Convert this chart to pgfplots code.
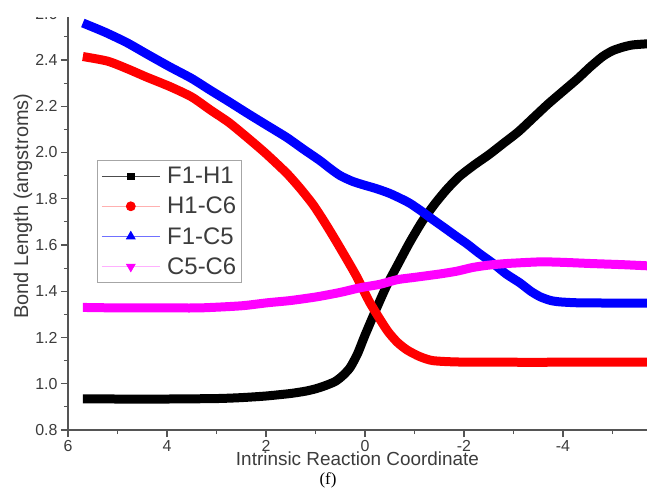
\documentclass[border=0pt]{standalone}
\usepackage{pgfplots}
\pgfplotsset{compat=1.18}
\usepackage{fontspec}
\setmainfont{Liberation Sans}
\newfontfamily\capfont{Liberation Serif}
\definecolor{txt}{HTML}{3C3C3C}
\definecolor{axc}{HTML}{555555}
\definecolor{cred}{HTML}{FF0000}
\definecolor{cblue}{HTML}{0000FF}
\definecolor{cmag}{HTML}{FF00FF}
\definecolor{lpink}{HTML}{FFB0B0}
\definecolor{lmag}{HTML}{FFB0FF}
\definecolor{lblue}{HTML}{7070FF}

\pgfplotstableread{
x y
5.7 0.935
5.0 0.934
4.0 0.934
3.0 0.936
2.5 0.940
2.0 0.947
1.5 0.958
1.2 0.968
1.0 0.978
0.8 0.992
0.6 1.010
0.45 1.035
0.3 1.07
0.15 1.13
0.0 1.21
-0.2 1.31
-0.44 1.425
-0.65 1.51
-0.9 1.61
-1.15 1.70
-1.4 1.775
-1.65 1.84
-1.9 1.895
-2.2 1.945
-2.5 1.99
-2.8 2.04
-3.1 2.09
-3.4 2.15
-3.7 2.21
-4.0 2.265
-4.3 2.32
-4.55 2.37
-4.8 2.415
-5.0 2.44
-5.2 2.455
-5.4 2.465
-5.7 2.47
}\tFH

\pgfplotstableread{
x y
5.7 2.415
5.2 2.395
4.8 2.362
4.4 2.325
3.94 2.285
3.5 2.24
3.13 2.185
2.75 2.13
2.38 2.065
2.0 1.995
1.58 1.91
1.31 1.845
1.05 1.775
0.85 1.71
0.64 1.637
0.4 1.55
0.17 1.464
-0.1 1.35
-0.44 1.233
-0.65 1.18
-0.85 1.146
-1.1 1.118
-1.37 1.10
-1.9 1.094
-3.0 1.093
-4.0 1.093
-5.0 1.093
-5.7 1.093
}\tHC

\pgfplotstableread{
x y
5.7 2.56
5.25 2.52
4.81 2.475
4.4 2.425
3.94 2.37
3.5 2.32
3.13 2.27
2.75 2.22
2.38 2.17
2.0 2.12
1.58 2.065
1.25 2.015
0.91 1.965
0.7 1.93
0.5 1.9
0.25 1.875
0.0 1.858
-0.24 1.843
-0.5 1.823
-0.75 1.798
-0.91 1.78
-1.15 1.745
-1.37 1.71
-1.6 1.675
-1.86 1.635
-2.06 1.605
-2.3 1.565
-2.59 1.52
-2.85 1.475
-3.13 1.436
-3.35 1.40
-3.54 1.376
-3.75 1.36
-3.94 1.354
-4.3 1.35
-5.0 1.349
-5.7 1.349
}\tFC

\pgfplotstableread{
x y
5.7 1.33
5.0 1.328
4.0 1.328
3.33 1.328
2.5 1.337
1.98 1.35
1.5 1.36
0.97 1.376
0.5 1.395
0.1 1.415
-0.3 1.43
-0.65 1.45
-1.0 1.46
-1.52 1.475
-1.86 1.487
-2.18 1.503
-2.5 1.513
-2.87 1.52
-3.54 1.527
-4.0 1.525
-4.55 1.52
-5.2 1.515
-5.7 1.51
}\tCC

\begin{document}
\begin{tikzpicture}
\path[use as bounding box] (-68bp,-67bp) rectangle (579bp,430bp);
\begin{axis}[
  scale only axis, width=579bp, height=416.25bp,
  x dir=reverse, xmin=-5.697, xmax=6, ymin=0.8, ymax=2.6,
  axis x line*=bottom, axis y line*=left,
  axis line style={axc, line width=1.2bp, -},
  xtick={-4,-2,0,2,4,6}, minor xtick={-5,-3,-1,1,3,5},
  ytick={0.8,1.0,1.2,1.4,1.6,1.8,2.0,2.2,2.4,2.6},
  minor ytick={0.9,1.1,1.3,1.5,1.7,1.9,2.1,2.3,2.5},
  tick align=outside, major tick length=7bp, minor tick length=4bp,
  every tick/.style={axc, line width=1.2bp},
  /pgf/number format/assume math mode=true,
  tick label style={font=\fontsize{16}{18}\selectfont, text=txt},
  yticklabel style={/pgf/number format/.cd, fixed, fixed zerofill, precision=1},
  xticklabel style={/pgf/number format/.cd, fixed, precision=0},
  xlabel={Intrinsic Reaction Coordinate},
  xlabel style={at={(axis description cs:0.5,0)}, anchor=center, yshift=-29bp,
    font=\fontsize{19}{22}\selectfont, text=txt},
  ylabel={Bond Length (angstroms)},
  ylabel style={at={(axis description cs:0,0.538)}, anchor=center, yshift=45bp,
    font=\fontsize{20}{23}\selectfont, text=txt},
  legend style={at={(axis description cs:0.0501,0.649)}, anchor=north west,
    draw=gray!70, line width=0.8bp, fill=white,
    font=\fontsize{24}{27}\selectfont, text=txt, inner xsep=4bp, inner ysep=6bp,
    row sep=10bp,
    /tikz/every odd column/.append style={column sep=6bp},
    nodes={inner sep=1bp}},
  legend cell align=left,
  legend image code/.code={%
    \draw[mark repeat=2,mark phase=2,line width=0.8bp,#1]
      plot coordinates {(0bp,0bp) (29bp,0bp) (58bp,0bp)};},
]
\addplot[black, line width=9bp, line join=round, smooth, tension=0.4, forget plot] table {\tFH};
\addplot[cred, line width=9bp, line join=round, smooth, tension=0.4, forget plot] table {\tHC};
\addplot[cblue, line width=9bp, line join=round, smooth, tension=0.4, forget plot] table {\tFC};
\addplot[cmag, line width=9bp, line join=round, smooth, tension=0.4, forget plot] table {\tCC};
\addlegendimage{black!70, mark=square*, mark options={black, mark size=3.2bp, solid}}
\addlegendentry{F1-H1}
\addlegendimage{lpink, mark=*, mark options={cred, mark size=4.5bp}}
\addlegendentry{H1-C6}
\addlegendimage{lblue, mark=triangle*, mark options={cblue, mark size=5bp}}
\addlegendentry{F1-C5}
\addlegendimage{lmag, mark=triangle*, mark options={cmag, mark size=5bp, rotate=180}}
\addlegendentry{C5-C6}
\end{axis}
\fill[white] (-68bp,413bp) rectangle (579bp,431bp);
\node[font=\capfont\fontsize{17}{20}\selectfont, text=black] at (260bp,-50bp) {(f)};
\end{tikzpicture}
\end{document}
